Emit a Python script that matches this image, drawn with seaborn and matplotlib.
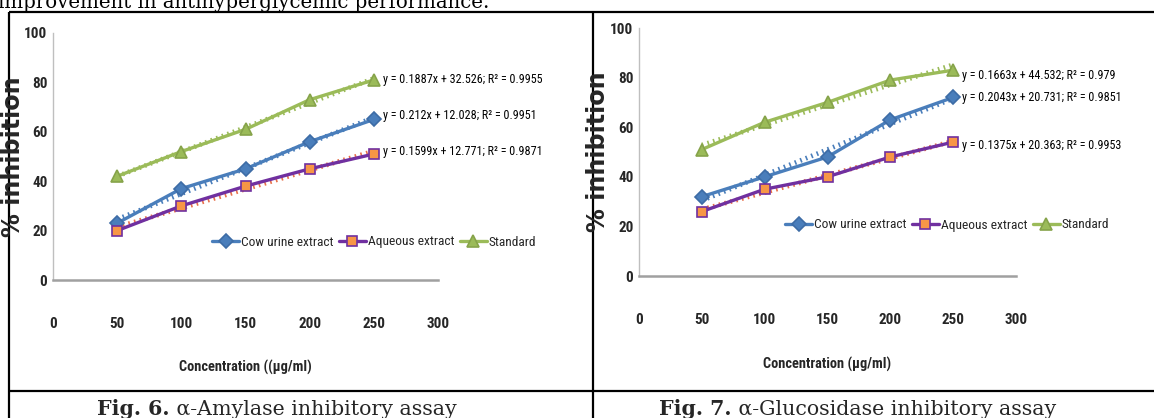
import matplotlib
matplotlib.use("Agg")
import matplotlib.pyplot as plt
import seaborn as sns

# ---------------- data ----------------
concentration = [50, 100, 150, 200, 250]
x_ticks = [0, 50, 100, 150, 200, 250, 300]
y_ticks = [0, 20, 40, 60, 80, 100]
series_names = ["Cow urine extract", "Aqueous extract", "Standard"]

amylase_cow = [23, 37, 45, 56, 65]
amylase_aqueous = [20, 30, 38, 45, 51]
amylase_standard = [42, 52, 61, 73, 81]
amylase_equations = ["y = 0.1887x + 32.526; R² = 0.9955",
                     "y = 0.212x + 12.028; R² = 0.9951",
                     "y = 0.1599x + 12.771; R² = 0.9871"]

glucosidase_cow = [32, 40, 48, 63, 72]
glucosidase_aqueous = [26, 35, 40, 48, 54]
glucosidase_standard = [51, 62, 70, 79, 83]
glucosidase_equations = ["y = 0.1663x + 44.532; R² = 0.979",
                         "y = 0.2043x + 20.731; R² = 0.9851",
                         "y = 0.1375x + 20.363; R² = 0.9953"]

x_label_amylase = "Concentration ((µg/ml)"
x_label_glucosidase = "Concentration (µg/ml)"
y_label = "% inhibition"
caption_amylase = ["Fig. 6.", " α-Amylase inhibitory assay"]
caption_glucosidase = ["Fig. 7.", " α-Glucosidase inhibitory assay"]
top_text = "improvement in antihyperglycemic performance."

# ---------------- style ----------------
sns.set_style("white")
NARROW_FAMILIES = ["Liberation Sans Narrow", "Roboto Condensed",
                   "Noto Sans Condensed", "Open Sans Condensed",
                   "Noto Sans", "DejaVu Sans"]
plt.rcParams["font.family"] = ["DejaVu Sans"]
plt.rcParams["axes.unicode_minus"] = False
NARROW = dict(family=NARROW_FAMILIES, fontstretch="condensed")

W, H = 1154, 418
fig = plt.figure(figsize=(W / 100, H / 100), dpi=100)
renderer = fig.canvas.get_renderer()


def fit_size(text, target_px, base=10, **kw):
    t = fig.text(0, 0, text, fontsize=base, **kw)
    w = t.get_window_extent(renderer).width
    t.remove()
    return base * target_px / w


FS_TICK = fit_size("100", 23, weight="bold", **NARROW)
FS_EQ = fit_size(amylase_equations[0], 158, **NARROW)
FS_LEG = fit_size("Cow urine extract", 92, **NARROW)
FS_XLAB = fit_size(x_label_amylase, 132, weight="bold", **NARROW)
FS_YLAB = fit_size(y_label, 160, weight="bold", family="DejaVu Sans")
FS_CAP = fit_size(caption_amylase[0] + caption_amylase[1], 352,
                  family="DejaVu Serif")
FS_TOP = fit_size(top_text, 493, family="DejaVu Serif")

line_colors = ["#4A7EBB", "#7030A0", "#9BBB59"]
face_colors = ["#4A7EBB", "#F79646", "#9BBB59"]
edge_colors = ["#3D6CA6", "#7030A0", "#86A34A"]
trend_colors = ["#4A7EBB", "#E8704A", "#9BBB59"]
markers = ["D", "s", "^"]
msizes = [7, 7, 8.5]

# overlay axes in pixel coordinates for page elements
ax0 = fig.add_axes([0, 0, 1, 1], zorder=-1)
ax0.set_xlim(0, W)
ax0.set_ylim(H, 0)
ax0.axis("off")

border_kw = dict(color="black", lw=1.6, solid_capstyle="butt")
ax0.plot([9, W], [12, 12], **border_kw)
ax0.plot([9, W], [391, 391], **border_kw)
ax0.plot([9, 9], [12, H], **border_kw)
ax0.plot([593, 593], [12, H], **border_kw)

ax0.text(-2, 8, top_text, family="DejaVu Serif", fontsize=FS_TOP,
         va="baseline", ha="left", color="black")


def px_axes(left, right, y0, y100):
    return fig.add_axes([left / W, 1 - y0 / H, (right - left) / W, (y0 - y100) / H])


def draw_panel(ax, cow, aq, std, equations, eq_pos, leg_pos, xlabel, ylab_x):
    ax.set_facecolor("none")
    groups = [cow, aq, std]
    handles = []
    for i, vals in enumerate(groups):
        sns.regplot(x=concentration, y=vals, ax=ax, scatter=False, ci=None,
                    truncate=True,
                    line_kws=dict(color=trend_colors[i], lw=3.4,
                                  ls=(0, (0.35, 0.9)), zorder=2))
        sns.lineplot(x=concentration, y=vals, ax=ax, color=line_colors[i],
                     lw=2.4, marker=markers[i], markersize=msizes[i],
                     markerfacecolor=face_colors[i],
                     markeredgecolor=edge_colors[i], markeredgewidth=1.2,
                     zorder=3, legend=False)
        handles.append(ax.get_lines()[-1])
    ax.set_xlim(0, 300)
    ax.set_ylim(0, 100)
    ax.set_xticks(x_ticks)
    ax.set_yticks(y_ticks)
    ax.set_xticklabels([str(t) for t in x_ticks], fontsize=FS_TICK,
                       weight="bold", **NARROW)
    ax.set_yticklabels([str(t) for t in y_ticks], fontsize=FS_TICK,
                       weight="bold", **NARROW)
    ax.tick_params(axis="x", length=0, pad=27)
    ax.tick_params(axis="y", length=0, pad=4)
    for s in ["top", "right"]:
        ax.spines[s].set_visible(False)
    ax.spines["left"].set_color("#BFBFBF")
    ax.spines["left"].set_linewidth(1.0)
    ax.spines["bottom"].set_color("#A0A0A0")
    ax.spines["bottom"].set_linewidth(1.8)
    ax.grid(False)
    ax.set_xlabel(xlabel, fontsize=FS_XLAB, weight="bold", **NARROW)
    ax.xaxis.set_label_coords(0.5, -0.325)
    ax.set_ylabel(y_label, family="DejaVu Sans", fontsize=FS_YLAB, weight="bold")
    ax.yaxis.set_label_coords(ylab_x, 0.5)
    for i, (tx, ty) in enumerate(eq_pos):
        ax0.text(tx, ty, equations[i], fontsize=FS_EQ, va="center", ha="left",
                 color="black", **NARROW)
    hl = 27 / (FS_LEG * 100 / 72)
    ax.legend(handles=handles, labels=series_names, loc="center left",
              bbox_to_anchor=(leg_pos[0] / W, 1 - leg_pos[1] / H),
              bbox_transform=fig.transFigure, ncol=3, frameon=False,
              prop=dict(size=FS_LEG, family=NARROW_FAMILIES, stretch="condensed"),
              handlelength=hl, handletextpad=0.15,
              columnspacing=0.4, borderpad=0, borderaxespad=0)


axL = px_axes(53, 438, 280, 33)
draw_panel(axL, amylase_cow, amylase_aqueous, amylase_standard,
           amylase_equations, [(383, 80), (383, 115), (383, 152)],
           (212, 242), x_label_amylase, -0.072)

axR = px_axes(639, 1016, 276, 28)
draw_panel(axR, glucosidase_cow, glucosidase_aqueous, glucosidase_standard,
           glucosidase_equations, [(962, 75), (962, 98), (962, 145)],
           (785, 225), x_label_glucosidase, -0.078)

# captions (bold figure number followed by normal text)
for cap, x0 in [(caption_amylase, 97), (caption_glucosidase, 659)]:
    t1 = ax0.text(x0, 415, cap[0], family="DejaVu Serif", fontsize=FS_CAP,
                  weight="bold", va="baseline", ha="left")
    ax0.annotate(cap[1], xy=(1, 0), xycoords=t1, va="bottom", ha="left",
                 family="DejaVu Serif", fontsize=FS_CAP)

fig.savefig("out.png", dpi=100)
